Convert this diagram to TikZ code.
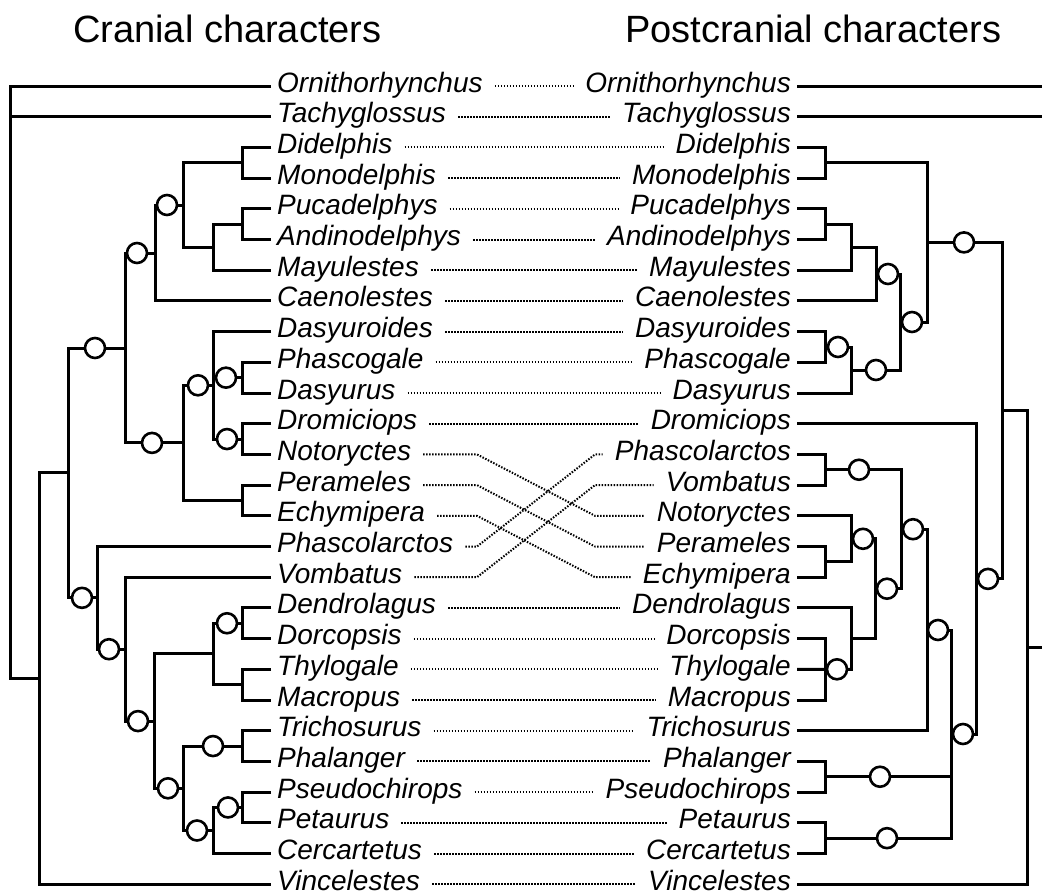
\documentclass[tikz,border=0pt]{standalone}
\usepackage{fontspec}
\setmainfont{Liberation Sans}

\tikzset{
    leaf/.style={font=\fontsize{28}{30}\selectfont\itshape, inner xsep=6pt, inner ysep=0pt, text height=12pt, text depth=0pt},
    heading/.style={font=\fontsize{38}{42}\selectfont, inner sep=0pt, anchor=base west},
    branch/.style={line width=3pt},
    link/.style={line width=2pt, dash pattern=on 1.5pt off 1.5pt, shorten <=6pt, shorten >=6pt},
    knot/.style={circle, draw, fill=white, line width=2.6pt, minimum size=20pt, inner sep=0pt}
}

\begin{document}
\begin{tikzpicture}[x=1pt, y=-1pt]
    \useasboundingbox (0,0) rectangle (1042,894);
    \node[heading] (cran) at (73,42) {Cranial characters};
    \node[heading] (post) at (625,42) {Postcranial characters};

    \foreach \n [count=\i from 0] in {Ornithorhynchus,Tachyglossus,Didelphis,Monodelphis,Pucadelphys,Andinodelphys,Mayulestes,Caenolestes,Dasyuroides,Phascogale,Dasyurus,Dromiciops,Notoryctes,Perameles,Echymipera,Phascolarctos,Vombatus,Dendrolagus,Dorcopsis,Thylogale,Macropus,Trichosurus,Phalanger,Pseudochirops,Petaurus,Cercartetus,Vincelestes}
        \node[leaf, anchor=west] (l-\n) at (271, 86+30.7*\i) {\n};
    \foreach \n [count=\i from 0] in {Ornithorhynchus,Tachyglossus,Didelphis,Monodelphis,Pucadelphys,Andinodelphys,Mayulestes,Caenolestes,Dasyuroides,Phascogale,Dasyurus,Dromiciops,Phascolarctos,Vombatus,Notoryctes,Perameles,Echymipera,Dendrolagus,Dorcopsis,Thylogale,Macropus,Trichosurus,Phalanger,Pseudochirops,Petaurus,Cercartetus,Vincelestes}
        \node[leaf, anchor=east] (r-\n) at (797, 86+30.7*\i) {\n};

    \foreach \n in {Ornithorhynchus,Tachyglossus,Didelphis,Monodelphis,Pucadelphys,Andinodelphys,Mayulestes,Caenolestes,Dasyuroides,Phascogale,Dasyurus,Dromiciops,Dendrolagus,Dorcopsis,Thylogale,Macropus,Trichosurus,Phalanger,Pseudochirops,Petaurus,Cercartetus,Vincelestes}
        \draw[link] (l-\n.east) -- (r-\n.west);
    \foreach \n in {Notoryctes,Perameles,Echymipera,Phascolarctos,Vombatus}
        \draw[link] (l-\n.east) -- (477,0 |- l-\n.east) -- (595,0 |- r-\n.west) -- (r-\n.west);

    % cranial tree
    \draw[branch] (l-Didelphis.west) -| (242,162.75) coordinate (lDM) |- (l-Monodelphis.west);
    \draw[branch] (l-Pucadelphys.west) -| (242,224.15) coordinate (lPA) |- (l-Andinodelphys.west);
    \draw[branch] (lPA) -| (213,247.2) coordinate (lN) |- (l-Mayulestes.west);
    \draw[branch] (lDM) -| (183,205) coordinate (lM) |- (lN);
    \draw[branch] (lM) -| (155,253) coordinate (lL) |- (l-Caenolestes.west);
    \draw[branch] (l-Phascogale.west) -| (242,377.65) coordinate (lPD) |- (l-Dasyurus.west);
    \draw[branch] (l-Dromiciops.west) -| (242,439.05) coordinate (lDN) |- (l-Notoryctes.west);
    \draw[branch] (l-Dasyuroides.west) -| (213,385.3) coordinate (lE) |- (lDN);
    \draw[branch] (lPD) -- (lE |- lPD);
    \draw[branch] (l-Perameles.west) -| (242,500.45) coordinate (lPE) |- (l-Echymipera.west);
    \draw[branch] (lE) -| (183,442.9) coordinate (lD) |- (lPE);
    \draw[branch] (lL) -| (125,348) coordinate (lC) |- (lD);
    \draw[branch] (l-Dendrolagus.west) -| (242,623.25) coordinate (lDD) |- (l-Dorcopsis.west);
    \draw[branch] (l-Thylogale.west) -| (242,684.65) coordinate (lTM) |- (l-Macropus.west);
    \draw[branch] (lDD) -| (213,653.95) coordinate (lI) |- (lTM);
    \draw[branch] (l-Trichosurus.west) -| (242,746.05) coordinate (lTP) |- (l-Phalanger.west);
    \draw[branch] (l-Pseudochirops.west) -| (242,807.45) coordinate (lPP) |- (l-Petaurus.west);
    \draw[branch] (lPP) -| (213,830.5) coordinate (lK) |- (l-Cercartetus.west);
    \draw[branch] (lTP) -| (183,788.3) coordinate (lJ) |- (lK);
    \draw[branch] (lI) -| (154,721.1) coordinate (lH) |- (lJ);
    \draw[branch] (l-Vombatus.west) -| (125,649.2) coordinate (lG) |- (lH);
    \draw[branch] (l-Phascolarctos.west) -| (97,597.85) coordinate (lF) |- (lG);
    \draw[branch] (lC) -| (68,472.9) coordinate (lB) |- (lF);
    \draw[branch] (lB) -| (39,678.5) coordinate (lA) |- (l-Vincelestes.west);
    \coordinate (lRoot) at (10,678.5);
    \draw[branch] (l-Ornithorhynchus.west) -| (lRoot) -- (lA);
    \draw[branch] (l-Tachyglossus.west) -- (lRoot |- l-Tachyglossus.west);

    % postcranial tree
    \draw[branch] (r-Didelphis.east) -| (825,162.75) coordinate (rDM) |- (r-Monodelphis.east);
    \draw[branch] (r-Pucadelphys.east) -| (825,224.15) coordinate (rPA) |- (r-Andinodelphys.east);
    \draw[branch] (rPA) -| (851,247.2) coordinate (rPAM) |- (r-Mayulestes.east);
    \draw[branch] (rPAM) -| (876,274) coordinate (rPMC) |- (r-Caenolestes.east);
    \draw[branch] (r-Dasyuroides.east) -| (825,347) coordinate (rDP) |- (r-Phascogale.east);
    \draw[branch] (rDP) -| (851,370) coordinate (rDPD) |- (r-Dasyurus.east);
    \draw[branch] (rPMC) -| (900,322) coordinate (rX) |- (rDPD);
    \draw[branch] (rDM) -| (927,242.4) coordinate (rAm) |- (rX);
    \draw[branch] (r-Phascolarctos.east) -| (825,469.75) coordinate (rPV) |- (r-Vombatus.east);
    \draw[branch] (r-Perameles.east) -| (825,561.85) coordinate (rPE) |- (r-Echymipera.east);
    \draw[branch] (r-Notoryctes.east) -| (851,538.8) coordinate (rNP) |- (rPE);
    \draw[branch] (r-Dorcopsis.east) -| (825,669.3) coordinate (rMa) |- (r-Macropus.east);
    \draw[branch] (r-Thylogale.east) -- (rMa) -- (851,669.3);
    \draw[branch] (r-Dendrolagus.east) -| (851,638.6) coordinate (rDT) |- (rMa);
    \draw[branch] (rNP) -| (875,588.7) coordinate (rNM) |- (rDT);
    \draw[branch] (rPV) -| (901,529.2) coordinate (rY) |- (rNM);
    \draw[branch] (rY) -| (927,630) coordinate (rZ) |- (r-Trichosurus.east);
    \draw[branch] (r-Phalanger.east) -| (825,776.75) coordinate (rPP) |- (r-Pseudochirops.east);
    \draw[branch] (r-Petaurus.east) -| (825,838.15) coordinate (rPC) |- (r-Cercartetus.east);
    \draw[branch] (rZ) -| (951,734) coordinate (rW) |- (rPC);
    \draw[branch] (rPP) -- (rW |- rPP);
    \draw[branch] (r-Dromiciops.east) -| (976,578.9) coordinate (rV) |- (rW);
    \draw[branch] (rAm) -| (1002,410.6) coordinate (rU) |- (rV);
    \draw[branch] (rU) -| (1027,647.4) coordinate (rT) |- (r-Vincelestes.east);
    \coordinate (rEdge) at (1042,647.4);
    \draw[branch] (rT) -- (rEdge);
    \draw[branch] (r-Ornithorhynchus.east) -- (rEdge |- r-Ornithorhynchus.east);
    \draw[branch] (r-Tachyglossus.east) -- (rEdge |- r-Tachyglossus.east);

    \foreach \p [count=\k] in {(167,205),(137,253),(95,348),(226,377.65),(198,385.3),(227,439.05),(152,442.9),(82,597.85),(109,649.2),(227,623.25),(138,721.1),(213,746.05),(168,788.3),(228,807.45),(197,830.5)}
        \node[knot] (lk\k) at \p {};
    \foreach \p [count=\k] in {(888,274),(838,347),(876,370),(912,322),(964,242.4),(859,469.75),(863,538.8),(837,669.3),(887,588.7),(913,529.2),(938,630),(880,776.75),(887,838.15),(963,734),(988,578.9)}
        \node[knot] (rk\k) at \p {};
\end{tikzpicture}
\end{document}
